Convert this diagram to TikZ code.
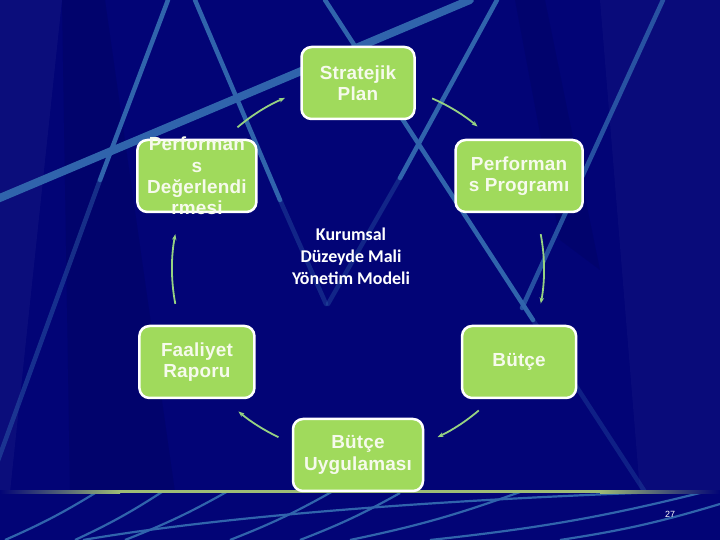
\documentclass[tikz,border=0pt]{standalone}
\usepackage{fontspec}
\setmainfont{Liberation Sans}
\newfontfamily\boxfont{Liberation Sans}[LetterSpace=1]
\newfontfamily\calfont{Carlito}
\usepackage{tikz}
\usetikzlibrary{calc, arrows.meta}
\definecolor{navy}{RGB}{2,4,118}
\definecolor{streak}{RGB}{48,100,172}
\definecolor{boxgreen}{RGB}{160,218,92}
\definecolor{arrowgreen}{RGB}{150,210,130}
\definecolor{boxtextc}{RGB}{246,250,236}
\definecolor{divider}{RGB}{158,188,118}

\begin{document}
\begin{tikzpicture}[x=1bp, y=1bp,
  box/.style={draw=white, line width=2.5bp, fill=boxgreen, rounded corners=10bp,
    minimum height=72bp, inner sep=0pt},
  boxtext/.style={text=boxtextc, font=\boxfont\bfseries\fontsize{19}{21.5}\selectfont,
    align=center, inner sep=0pt},
  cyc/.style={arrowgreen, line width=1.8bp, -{Stealth[length=6bp, width=4.5bp]}},
  streakline/.style={streak, line width=4.5bp, line cap=round}]
  % Background
  \fill[navy] (0,0) rectangle (720,540);
  \useasboundingbox (0,0) rectangle (720,540);
  \fill[white, opacity=0.04] (0,540) -- (62,540) -- (10,48) -- (0,48) -- cycle;
  \fill[black, opacity=0.08] (62,540) -- (105,540) -- (175,48) -- (70,48) -- cycle;
  \fill[black, opacity=0.07] (515,540) -- (545,540) -- (600,270) -- (560,300) -- cycle;
  \fill[white, opacity=0.03] (600,540) -- (720,540) -- (720,48) -- (640,48) -- cycle;
  % Streaks in the upper part
  \begin{scope}
    \clip (0,48) rectangle (720,540);
    \draw[streakline] (168,540) -- (100,360);
    \draw[streakline, opacity=0.45] (100,360) -- (-20,30);
    \draw[streakline] (195,540) -- (280,340);
    \draw[streakline, opacity=0.35] (280,340) -- (326,236);
    \draw[streakline] (497,540) -- (400,362);
    \draw[streakline, opacity=0.35] (400,362) -- (328,236);
    \draw[streakline, line width=8bp] (-5,340) -- (470,540);
    \draw[streakline] (325,540) -- (533,220);
    \draw[streakline, opacity=0.3] (533,220) -- (645,48);
    \draw[streakline, opacity=0.8] (663,540) -- (522,232);
  \end{scope}
  % Streaks in the lower strip
  \begin{scope}
    \clip (0,0) rectangle (720,48);
    \foreach \xa/\ya/\xb/\yb in {5/0/100/50, 75/0/165/50, 125/0/230/50, 230/0/335/50,
        300/0/400/47, 350/0/520/48, 430/0/720/52, 560/0/720/36}
      \draw[streak, line width=2.2bp] (\xa,\ya) to[bend right=4] (\xb,\yb);
    \draw[streak, line width=2.2bp] (83,0) .. controls (200,20) and (400,40) .. (720,50);
  \end{scope}
  % Divider
  \shade[left color=navy, right color=divider] (0,46.5) rectangle (120,49.5);
  \fill[divider] (120,46.5) rectangle (600,49.5);
  \shade[left color=divider, right color=navy] (600,46.5) rectangle (720,49.5);

  % Cycle
  \coordinate (c) at (358,271);
  \node[box, minimum width=113bp] (sp)  at ($(c)+(90:186)$)  {};
  \node[box, minimum width=127bp] (pp)  at ($(c)+(30:186)$)  {};
  \node[box, minimum width=114bp] (bu)  at ($(c)+(-30:186)$) {};
  \node[box, minimum width=130bp] (bug) at ($(c)+(-90:186)$) {};
  \node[box, minimum width=115bp] (fr)  at ($(c)+(210:186)$) {};
  \node[box, minimum width=119bp] (pd)  at ($(c)+(150:186)$) {};
  \node[boxtext] (sp-t)  at (sp)  {Stratejik\\Plan};
  \node[boxtext] (pp-t)  at (pp)  {Performan\\s Programı};
  \node[boxtext] (bu-t)  at (bu)  {Bütçe};
  \node[boxtext] (bug-t) at (bug) {Bütçe\\Uygulaması};
  \node[boxtext] (fr-t)  at (fr)  {Faaliyet\\Raporu};
  \node[boxtext] (pd-t)  at (pd)  {Performan\\s\\Değerlendi\\rmesi};
  % Arrows
  \foreach \a/\b in {130.4/113.1, 66.5/50, 10.8/-10.7, -49.5/-64.7, 244.7/230, 190.8/169.2}
    \draw[cyc] ($(c)+(\a:186)$) arc[start angle=\a, end angle=\b, radius=186];
  \node[text=white, font=\calfont\bfseries\fontsize{18}{22}\selectfont, align=center]
    (model) at ($(c)+(-7,13)$) {Kurumsal\\Düzeyde Mali\\Yönetim Modeli};
  \node[text=white, font=\fontsize{9}{10}\selectfont] (page) at (670,26) {27};
\end{tikzpicture}
\end{document}
